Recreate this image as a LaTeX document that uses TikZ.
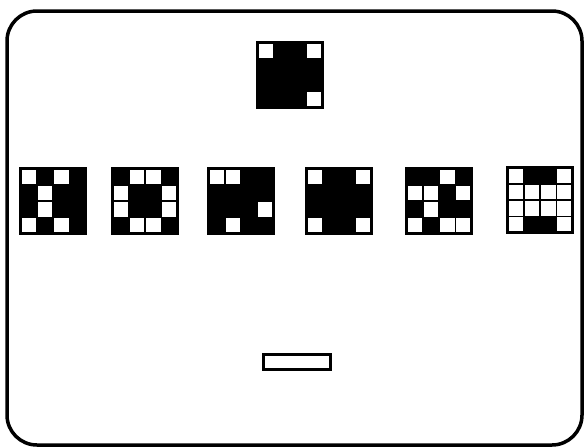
\documentclass[tikz,border=0pt]{standalone}
\usetikzlibrary{positioning,calc}

\newcommand\pixgrid[2]{%
  \foreach \v [count=\k from 0] in {#2} {
    \pgfmathtruncatemacro\col{mod(\k,4)}
    \pgfmathtruncatemacro\row{\k/4}
    \ifnum\v=1 \def\fc{black}\else\def\fc{white}\fi
    \draw[fill=\fc, line width=1.5pt] ($(#1.north west)+(\col*16.25,\row*16.25)$) rectangle ++(16.25,16.25);
  }
  \node[gridbox] at (#1) {};
}

\begin{document}
\begin{tikzpicture}[x=1pt, y=-1pt,
    gridbox/.style={draw, line width=2.2pt, minimum size=65pt, inner sep=0pt, outer sep=0pt},
    answerbox/.style={draw, line width=2.4pt, minimum width=67pt, minimum height=15pt, inner sep=0pt}]
  \useasboundingbox (0,0) rectangle (585,447);
  \draw[line width=3.5pt, rounded corners=30pt] (7,11) rectangle (582,445);

  \node[gridbox] (target) at (290,75) {};
  \node[gridbox] (opta) at (53,201) {};
  \node[gridbox] (optb) at (145,201) {};
  \node[gridbox] (optc) at (241,201) {};
  \node[gridbox] (optd) at (339,201) {};
  \node[gridbox] (opte) at (439,201) {};
  \node[gridbox] (optf) at (540,200) {};

  \pixgrid{target}{0,1,1,0, 1,1,1,1, 1,1,1,1, 1,1,1,0}
  \pixgrid{opta}{0,1,0,1, 1,0,1,1, 1,0,1,1, 0,1,0,1}
  \pixgrid{optb}{1,0,0,1, 0,1,1,0, 0,1,1,0, 1,0,0,1}
  \pixgrid{optc}{0,0,1,1, 1,1,1,1, 1,1,1,0, 1,0,1,1}
  \pixgrid{optd}{0,1,1,0, 1,1,1,1, 1,1,1,1, 0,1,1,0}
  \pixgrid{opte}{1,1,0,1, 0,0,1,0, 1,0,1,1, 0,1,0,0}
  \pixgrid{optf}{0,1,1,0, 0,0,0,0, 0,0,0,0, 0,1,1,0}

  \node[answerbox] (answer) at (297,362) {};
\end{tikzpicture}
\end{document}
